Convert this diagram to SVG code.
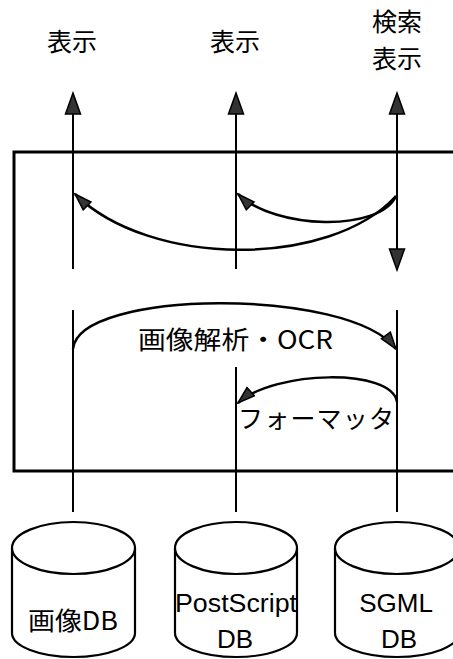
<svg xmlns="http://www.w3.org/2000/svg" width="453" height="659" viewBox="0 0 453 659">
<style>
.ln{fill:none;stroke:#000;stroke-width:2}
.cv{fill:none;stroke:#000;stroke-width:2.5}
.box{fill:none;stroke:#000;stroke-width:3}
.cyl{fill:#fff;stroke:#000;stroke-width:2.2}
.jp{font-family:"Noto Sans CJK JP","Noto Sans",sans-serif;font-size:25px;fill:#000}
.en{font-family:"Liberation Sans",Arial,sans-serif;font-size:26px;fill:#000}
</style>
<defs>
<marker id="big" markerUnits="userSpaceOnUse" markerWidth="24" markerHeight="18" viewBox="0 0 24 18" refX="22" refY="9" orient="auto">
<path d="M1,1.5 L22,9 L1,16.5 z" fill="#333" stroke="#000" stroke-width="1.5"/>
</marker>
<marker id="sm" markerUnits="userSpaceOnUse" markerWidth="20" markerHeight="14" viewBox="0 0 20 14" refX="18" refY="7" orient="auto">
<path d="M1,1.5 L18,7 L1,12.5 z" fill="#333" stroke="#000" stroke-width="1.5"/>
</marker>
</defs>
<rect id="system" class="box" x="14" y="152" width="460" height="319"/>
<g id="connectors">
<path class="ln" d="M73,269 L73,93" marker-end="url(#big)"/>
<path class="ln" d="M236,269 L236,93" marker-end="url(#big)"/>
<path class="ln" d="M397,250 L397,93" marker-end="url(#big)"/>
<path class="ln" d="M397,190 L397,270" marker-end="url(#big)"/>
<path class="cv" d="M396,196 C330,268 150,268 75,194" marker-end="url(#sm)"/>
<path class="cv" d="M396,196 C380,232 275,230 238,194" marker-end="url(#sm)"/>
<path class="ln" d="M73,310 L73,512"/>
<path class="ln" d="M397,310 L397,512"/>
<path class="ln" d="M236,367 L236,512"/>
<path class="cv" d="M73,349 C78,289 350,287 396,349" marker-end="url(#sm)"/>
<path class="cv" d="M397,402 C392,368 275,370 238,403" marker-end="url(#sm)"/>
</g>
<g id="labels">
<text class="jp" x="72" y="51" text-anchor="middle">表示</text>
<text class="jp" x="235" y="51" text-anchor="middle">表示</text>
<text class="jp" x="397" y="31" text-anchor="middle">検索</text>
<text class="jp" x="397" y="68" text-anchor="middle">表示</text>
<text class="jp" x="138" y="349" textLength="195" lengthAdjust="spacingAndGlyphs">画像解析・OCR</text>
<text class="jp" x="238" y="428" font-size="22" textLength="156" lengthAdjust="spacing">フォーマッタ</text>
</g>
<g id="db-image">
<path class="cyl" d="M12,548 L12,633 A61.5,24 0 0 0 135,633 L135,548"/>
<ellipse class="cyl" cx="73.5" cy="548" rx="61.5" ry="26"/>
<text class="jp" x="73" y="630" text-anchor="middle" textLength="90" lengthAdjust="spacingAndGlyphs">画像DB</text>
</g>
<g id="db-postscript">
<path class="cyl" d="M175,548 L175,633 A61,24 0 0 0 297,633 L297,548"/>
<ellipse class="cyl" cx="236" cy="548" rx="61" ry="26"/>
<text class="en" x="236" y="612" text-anchor="middle" textLength="122" lengthAdjust="spacingAndGlyphs">PostScript</text>
<text class="en" x="235" y="648" text-anchor="middle">DB</text>
</g>
<g id="db-sgml">
<path class="cyl" d="M335,548 L335,633 A62,24 0 0 0 459,633 L459,548"/>
<ellipse class="cyl" cx="397" cy="548" rx="62" ry="26"/>
<text class="en" x="396" y="612" text-anchor="middle">SGML</text>
<text class="en" x="399" y="648" text-anchor="middle">DB</text>
</g>
</svg>
